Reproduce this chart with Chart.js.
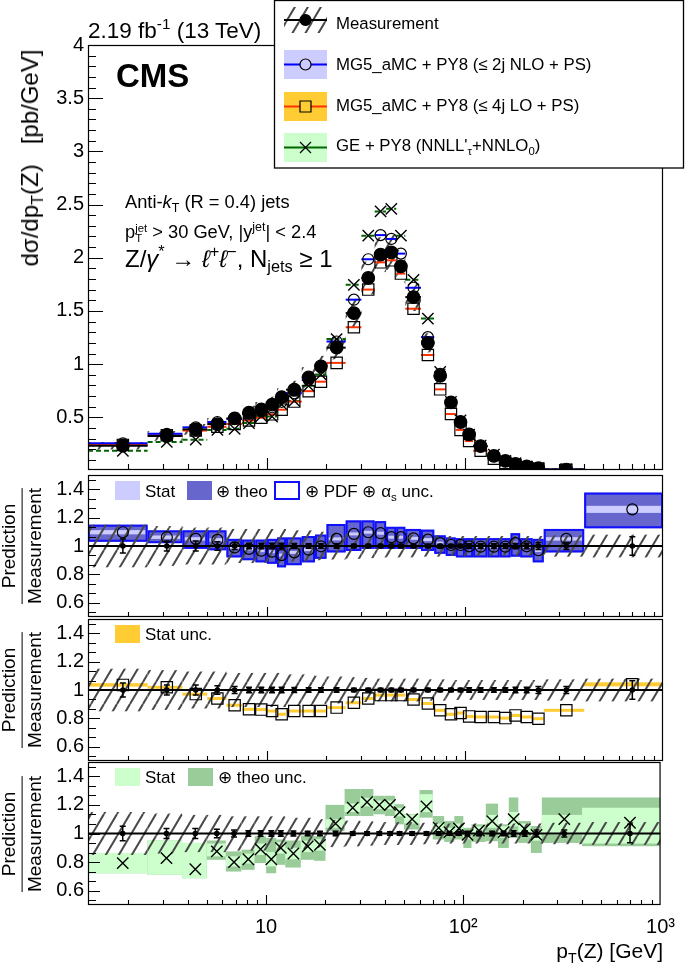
<!DOCTYPE html>
<html><head><meta charset="utf-8">
<script src="https://cdn.jsdelivr.net/npm/chart.js@4.4.1/dist/chart.umd.min.js"></script>
<style>
html,body{margin:0;padding:0;background:#fff;}
body{position:relative;width:685px;height:968px;overflow:hidden;font-family:"Liberation Sans",Arial,Helvetica,sans-serif;color:#000;}
canvas{position:absolute;left:0;top:0;}
.t{position:absolute;white-space:nowrap;line-height:1;}
.t sub{font-size:68%;vertical-align:-0.32em;line-height:0;}
.t sup{font-size:68%;vertical-align:0.6em;line-height:0;}
.ss{display:inline-block;vertical-align:-0.42em;line-height:0.95;font-size:62%;text-align:left;}
.ss span{display:block;}
</style></head>
<body>
<canvas id="c1" width="685" height="968" style="width:685px;height:968px"></canvas>
<canvas id="c2" width="685" height="968" style="width:685px;height:968px"></canvas>
<canvas id="c3" width="685" height="968" style="width:685px;height:968px"></canvas>
<canvas id="c4" width="685" height="968" style="width:685px;height:968px"></canvas>
<script>
// ---------------- DATA ----------------
const binEdges = [1.25,2.5,3.75,5,6.25,7.5,8.75,10,11.25,12.5,15,17.5,20,25,30,35,40,45,50,60,70,80,90,100,110,130,150,170,190,220,250,400,1000];
const binCenters = [1.875,3.125,4.375,5.625,6.875,8.125,9.375,10.625,11.875,13.75,16.25,18.75,22.5,27.5,32.5,37.5,42.5,47.5,55,65,75,85,95,105,120,140,160,180,205,235,325,700];

// measured dsigma/dpT(Z) [pb/GeV]
const measurement = [0.233,0.325,0.387,0.437,0.49,0.544,0.575,0.62,0.69,0.76,0.875,0.98,1.155,1.48,1.81,2.03,2.05,1.92,1.63,1.2,0.89,0.64,0.456,0.34,0.23,0.137,0.09,0.062,0.038,0.022,0.009,0.002];
const measStatRel = [0.05,0.035,0.035,0.03,0.025,0.02,0.02,0.02,0.02,0.018,0.015,0.015,0.015,0.012,0.012,0.012,0.012,0.012,0.012,0.012,0.012,0.012,0.012,0.015,0.015,0.015,0.015,0.02,0.02,0.025,0.025,0.065];
const measSystRel = [0.15,0.14,0.13,0.13,0.12,0.12,0.12,0.12,0.12,0.11,0.11,0.1,0.095,0.09,0.085,0.08,0.08,0.08,0.08,0.075,0.075,0.07,0.07,0.07,0.07,0.07,0.07,0.07,0.07,0.07,0.075,0.08];
const measRatio = [1,1,1,1,1,1,1,1,1,1,1,1,1,1,1,1,1,1,1,1,1,1,1,1,1,1,1,1,1,1,1,1];

// predictions, top panel [pb/GeV]
const nloXsec = [0.256,0.345,0.406,0.456,0.485,0.533,0.556,0.595,0.646,0.726,0.852,0.978,1.213,1.606,1.986,2.213,2.177,2.039,1.718,1.254,0.908,0.644,0.459,0.339,0.229,0.136,0.0896,0.0632,0.0379,0.0213,0.00945,0.0025];
const loXsec  = [0.241,0.331,0.376,0.411,0.438,0.47,0.496,0.528,0.572,0.648,0.746,0.835,1.012,1.347,1.701,1.957,1.976,1.851,1.521,1.086,0.763,0.531,0.382,0.277,0.186,0.111,0.0722,0.0509,0.0308,0.0176,0.0077,0.0021];
const geXsec  = [0.185,0.269,0.29,0.382,0.392,0.446,0.512,0.508,0.621,0.654,0.796,0.902,1.236,1.746,2.208,2.436,2.46,2.208,1.793,1.428,0.926,0.646,0.472,0.337,0.235,0.149,0.0909,0.0682,0.0391,0.0218,0.0099,0.00215];

// ratio MG5_aMC NLO / measurement
const nloRatio = [1.097,1.062,1.05,1.043,0.99,0.98,0.967,0.96,0.936,0.955,0.974,0.998,1.05,1.085,1.097,1.09,1.062,1.062,1.054,1.045,1.02,1.007,1.007,0.998,0.995,0.995,0.995,1.02,0.998,0.97,1.05,1.258];
const nloStat  = [0.015,0.012,0.012,0.012,0.01,0.01,0.01,0.01,0.01,0.01,0.008,0.008,0.008,0.008,0.008,0.008,0.008,0.008,0.008,0.008,0.008,0.008,0.008,0.008,0.008,0.008,0.01,0.01,0.01,0.012,0.012,0.025];
const nloTotLo = [1.03,1.02,0.98,0.97,0.92,0.9,0.885,0.875,0.85,0.865,0.885,0.91,0.955,0.965,0.98,0.98,0.98,0.98,0.98,0.965,0.945,0.93,0.92,0.92,0.92,0.92,0.92,0.925,0.92,0.885,0.955,1.125];
const nloTotHi = [1.15,1.11,1.11,1.11,1.05,1.045,1.045,1.05,1.06,1.06,1.07,1.08,1.155,1.18,1.18,1.175,1.135,1.135,1.12,1.115,1.075,1.06,1.055,1.055,1.055,1.055,1.055,1.09,1.055,1.05,1.12,1.376];

// ratio MG5_aMC LO / measurement
const loRatio = [1.036,1.019,0.971,0.94,0.893,0.864,0.862,0.852,0.829,0.852,0.852,0.852,0.876,0.91,0.94,0.964,0.964,0.964,0.933,0.905,0.857,0.829,0.838,0.814,0.81,0.81,0.802,0.821,0.81,0.798,0.857,1.04];
const loStat  = [0.012,0.008,0.008,0.008,0.006,0.006,0.006,0.006,0.006,0.006,0.006,0.006,0.006,0.006,0.006,0.006,0.006,0.006,0.006,0.006,0.006,0.006,0.006,0.006,0.006,0.006,0.006,0.006,0.006,0.006,0.006,0.014];

// ratio GENEVA / measurement
const geRatio  = [0.793,0.828,0.75,0.875,0.8,0.82,0.89,0.82,0.9,0.86,0.91,0.92,1.07,1.18,1.22,1.2,1.2,1.15,1.1,1.19,1.04,1.01,1.035,0.99,1.02,1.087,1.01,1.1,1.03,0.99,1.1,1.075];
const geStatLo = [0.722,0.711,0.687,0.84,0.77,0.79,0.85,0.77,0.86,0.82,0.87,0.88,1.04,1.15,1.19,1.17,1.17,1.12,1.07,1.15,1.01,0.98,1.0,0.96,0.99,1.04,0.97,1.05,0.99,0.95,0.99,0.93];
const geStatHi = [0.864,0.951,0.934,0.93,0.84,0.86,0.93,0.87,0.94,0.9,0.95,0.96,1.1,1.21,1.25,1.23,1.23,1.18,1.13,1.275,1.07,1.04,1.07,1.02,1.05,1.13,1.05,1.15,1.07,1.03,1.13,1.18];
const geTheoLo = [0.722,0.711,0.687,0.816,0.734,0.746,0.793,0.722,0.781,0.762,0.816,0.809,1.016,1.122,1.122,1.134,1.122,1.064,1.028,1.111,0.958,0.941,0.958,0.899,0.941,0.946,0.899,0.969,0.934,0.864,0.934,0.911];
const geTheoHi = [0.864,0.951,0.934,0.951,0.875,0.887,0.981,0.969,0.958,0.951,0.986,0.981,1.2,1.311,1.311,1.264,1.264,1.205,1.134,1.304,1.122,1.087,1.122,1.04,1.064,1.209,1.064,1.252,1.087,1.052,1.252,1.252];

// axes
const xMajorTicks = [10, 100, 1000];
const xTickLabels = ['10', '10\u00B2', '10\u00B3'];
const xMinorTicks = [2,3,4,5,6,7,8,9,20,30,40,50,60,70,80,90,200,300,400,500,600,700,800,900];
const topYTicks = [0.5,1,1.5,2,2.5,3,3.5,4];
const ratioYTicks = [0.6,0.8,1,1.2,1.4];

// ---------------- STYLE ----------------
const C = {
  nloLine:'#0000ff', nloStat:'#ccccff', nloTheo:'#6666cc', nloBorder:'#1010ff',
  loLine:'#ff3300', loStat:'#ffcc33',
  geLine:'#006600', geStat:'#ccffcc', geTheo:'#99cc99'
};
Chart.defaults.font.family = '"Liberation Sans", Arial, sans-serif';

const hatchTile = (function(){
  const s=13, h=22;
  const c=document.createElement('canvas'); c.width=s; c.height=h;
  const g=c.getContext('2d');
  g.strokeStyle='#484848'; g.lineWidth=2;
  for (const o of [-s,0,s]) { g.beginPath(); g.moveTo(o, h); g.lineTo(o+s, 0); g.stroke(); }
  return c;
})();

function drawMarker(ctx, style, x, y, r, fill){
  ctx.save(); ctx.strokeStyle='#000'; ctx.lineWidth=1.2; ctx.beginPath();
  if (style==='circle'){ ctx.arc(x,y,r,0,Math.PI*2); if(fill){ctx.fillStyle='#000';ctx.fill();} ctx.stroke(); }
  else if (style==='rect'){ ctx.rect(x-r,y-r,2*r,2*r); ctx.stroke(); }
  else { ctx.moveTo(x-r,y-r); ctx.lineTo(x+r,y+r); ctx.moveTo(x-r,y+r); ctx.lineTo(x+r,y-r); ctx.stroke(); }
  ctx.restore();
}

const panelPlugin = {
  id:'panel',
  beforeDatasetsDraw(chart, args, o){
    const ctx=chart.ctx, a=chart.chartArea, X=chart.scales.x, Y=chart.scales.y;
    const pat=ctx.createPattern(hatchTile,'repeat');
    const xe=i=>[X.getPixelForValue(binEdges[i]), X.getPixelForValue(binEdges[i+1])];
    const yp=v=>Y.getPixelForValue(v);
    ctx.save();
    ctx.beginPath(); ctx.rect(a.left,a.top,a.right-a.left,a.bottom-a.top); ctx.clip();
    const box=(i,lo,hi,fill,inset)=>{ const [x0,x1]=xe(i); const d=inset||0; let y0=yp(hi), y1=yp(lo); if(y1-y0<3){const m=(y0+y1)/2;y0=m-1.5;y1=m+1.5;} ctx.fillStyle=fill; ctx.fillRect(x0+d,y0,x1-x0-2*d,y1-y0); };
    const hline=(i,v,color,lw,dash)=>{ const [x0,x1]=xe(i); const y=yp(v); ctx.strokeStyle=color; ctx.lineWidth=lw; ctx.setLineDash(dash||[]); ctx.beginPath(); ctx.moveTo(x0,y); ctx.lineTo(x1,y); ctx.stroke(); ctx.setLineDash([]); };
    const n=binCenters.length;
    if (o.kind==='top'){
      for (let i=0;i<n;i++){ if (measurement[i]<Y.min) continue; box(i, measurement[i]*(1-measSystRel[i]), measurement[i]*(1+measSystRel[i]), pat); }
      for (let i=0;i<n;i++){
        if (geXsec[i]>=Y.min) hline(i, geXsec[i], C.geLine, 2, [5,3]);
        if (loXsec[i]>=Y.min) hline(i, loXsec[i], C.loLine, 2);
        if (nloXsec[i]>=Y.min) hline(i, nloXsec[i], C.nloLine, 2);
      }
      for (let i=0;i<n;i++){
        if (measurement[i]<Y.min) continue;
        hline(i, measurement[i], '#000', 2);
        const x=X.getPixelForValue(binCenters[i]);
        ctx.strokeStyle='#000'; ctx.lineWidth=1.5; ctx.beginPath();
        ctx.moveTo(x, yp(measurement[i]*(1+measStatRel[i]))); ctx.lineTo(x, yp(measurement[i]*(1-measStatRel[i]))); ctx.stroke();
      }
    } else {
      if (o.kind==='nlo'){
        for (let i=0;i<n;i++){
          const [x0,x1]=xe(i); const y0=yp(nloTotHi[i]), y1=yp(nloTotLo[i]);
          ctx.fillStyle=C.nloTheo; ctx.fillRect(x0,y0,x1-x0,y1-y0);
          box(i, nloRatio[i]-nloStat[i], nloRatio[i]+nloStat[i], C.nloStat, 2);
          ctx.strokeStyle=C.nloBorder; ctx.lineWidth=2; ctx.strokeRect(x0+1,y0+1,x1-x0-2,y1-y0-2);
        }
      } else if (o.kind==='lo'){
        for (let i=0;i<n;i++) box(i, loRatio[i]-loStat[i], loRatio[i]+loStat[i], C.loStat);
      } else if (o.kind==='ge'){
        for (let i=0;i<n;i++){ box(i, geTheoLo[i], geTheoHi[i], C.geTheo); box(i, geStatLo[i], geStatHi[i], C.geStat); }
      }
      for (let i=0;i<n;i++) box(i, 1-measSystRel[i], 1+measSystRel[i], pat);
      ctx.strokeStyle='#000'; ctx.lineWidth=2; ctx.beginPath(); const y1=yp(1); ctx.moveTo(a.left,y1); ctx.lineTo(a.right,y1); ctx.stroke();
      for (let i=0;i<n;i++){
        const x=X.getPixelForValue(binCenters[i]); const ya=yp(measRatio[i]+measStatRel[i]), yb=yp(measRatio[i]-measStatRel[i]);
        ctx.strokeStyle='#000'; ctx.lineWidth=1.5; ctx.beginPath();
        ctx.moveTo(x,ya); ctx.lineTo(x,yb); ctx.moveTo(x-3,ya); ctx.lineTo(x+3,ya); ctx.moveTo(x-3,yb); ctx.lineTo(x+3,yb); ctx.stroke();
      }
    }
    ctx.restore();
  },
  afterDraw(chart, args, o){
    const ctx=chart.ctx, a=chart.chartArea, X=chart.scales.x, Y=chart.scales.y;
    const top = o.kind==='top';
    ctx.save();
    ctx.strokeStyle='#000'; ctx.lineWidth=1.2;
    ctx.strokeRect(a.left+0.5, a.top+0.5, a.right-a.left-1, a.bottom-a.top-1);
    ctx.lineWidth=1.1; ctx.beginPath();
    const yMaj = top?topYTicks:ratioYTicks;
    const yMajLen = top?15:12, yMinLen = 8;
    for (const v of yMaj){ const y=Math.round(Y.getPixelForValue(v))+0.5; ctx.moveTo(a.left,y); ctx.lineTo(a.left+yMajLen,y); }
    if (top){ for (let k=1;k<40;k++){ if(k%5===0) continue; const y=Math.round(Y.getPixelForValue(k/10))+0.5; ctx.moveTo(a.left,y); ctx.lineTo(a.left+yMinLen,y);} }
    else { for (let k=-1;k<=13;k++){ if(k%3===0) continue; const v=0.6+k*0.2/3; if(v<=Y.min||v>=Y.max) continue; const y=Math.round(Y.getPixelForValue(v))+0.5; ctx.moveTo(a.left,y); ctx.lineTo(a.left+yMinLen,y);} }
    for (const v of xMajorTicks){ const x=Math.round(X.getPixelForValue(v))+0.5; if(x>a.right-2) continue; ctx.moveTo(x,a.bottom); ctx.lineTo(x,a.bottom-(top?12:10)); }
    for (const v of xMinorTicks){ const x=Math.round(X.getPixelForValue(v))+0.5; ctx.moveTo(x,a.bottom); ctx.lineTo(x,a.bottom-(top?6:5)); }
    ctx.stroke();
    // legends
    const pat=ctx.createPattern(hatchTile,'repeat');
    if (top){
      ctx.fillStyle='#fff'; ctx.fillRect(274,0,411,168);
      ctx.strokeStyle='#000'; ctx.lineWidth=1.3; ctx.strokeRect(274.5,0.5,409,167.5);
      const sx=284, sw=43, mx=305.5;
      ctx.fillStyle=pat; ctx.fillRect(sx,7,sw,26);
      ctx.fillStyle=C.nloStat; ctx.fillRect(sx,50,sw,29);
      ctx.fillStyle=C.loStat; ctx.fillRect(sx,92,sw,29);
      ctx.fillStyle=C.geStat; ctx.fillRect(sx,133,sw,29);
      const lines=[[20,'#000'],[64.5,C.nloLine],[106.5,C.loLine],[147.5,C.geLine]];
      for (const [y,c] of lines){ ctx.strokeStyle=c; ctx.lineWidth=2; ctx.beginPath(); ctx.moveTo(sx,y); ctx.lineTo(sx+sw,y); ctx.stroke(); }
      drawMarker(ctx,'circle',mx,20,5.5,true);
      ctx.fillStyle=C.nloStat; ctx.beginPath(); ctx.arc(mx,64.5,5.5,0,7); ctx.fill();
      drawMarker(ctx,'circle',mx,64.5,5.5,false);
      ctx.fillStyle=C.loStat; ctx.fillRect(mx-5.5,101,11,11);
      drawMarker(ctx,'rect',mx,106.5,5.5,false);
      drawMarker(ctx,'x',mx,147.5,5.5,false);
    } else if (o.kind==='nlo'){
      ctx.fillStyle=C.nloStat; ctx.fillRect(115,481,25,19);
      ctx.fillStyle=C.nloTheo; ctx.fillRect(187,481,25,19);
      ctx.fillStyle='#fff'; ctx.fillRect(274,481,26,19);
      ctx.strokeStyle=C.nloBorder; ctx.lineWidth=2; ctx.strokeRect(275,482,24,17);
    } else if (o.kind==='lo'){
      ctx.fillStyle=C.loStat; ctx.fillRect(115,625,25,18);
    } else if (o.kind==='ge'){
      ctx.fillStyle=C.geStat; ctx.fillRect(115,768,25,18);
      ctx.fillStyle=C.geTheo; ctx.fillRect(188,768,25,18);
    }
    ctx.restore();
  }
};

function pts(ys){ return binCenters.map((x,i)=>({x, y:ys[i]})); }
function hideBelow(r){ return c => (c.raw && c.chart.scales.y && c.raw.y < c.chart.scales.y.min) ? 0 : r; }
function ds(ys, style, r, fill, order, bw){
  return { data:pts(ys), pointStyle:style, pointRadius:hideBelow(r), pointHoverRadius:r,
    pointBackgroundColor: fill?'#000':'rgba(0,0,0,0)', pointBorderColor:'#000', pointBorderWidth:bw||1.2, order, showLine:false };
}

function makeChart(id, kind, padTop, padBottom, yMin, yMax, yTicks, datasets, showX){
  return new Chart(document.getElementById(id), {
    type:'scatter',
    data:{datasets},
    options:{
      responsive:false, animation:false, devicePixelRatio:1, events:[],
      layout:{padding:{top:padTop,bottom:padBottom,left:0,right:22}},
      plugins:{legend:{display:false}, tooltip:{enabled:false}, panel:{kind}},
      scales:{
        x:{type:'logarithmic', min:1.25, max:1000, display:showX,
           grid:{display:false, drawTicks:false}, border:{display:false},
           ticks:{autoSkip:false, maxRotation:0, padding:10, color:'#000', font:{size:20},
                  callback:(v,i)=>xTickLabels[i]},
           afterBuildTicks:s=>{ s.ticks = xMajorTicks.map(v=>({value:v})); },
           afterFit:s=>{ s.height = showX?40:0; }},
        y:{type:'linear', min:yMin, max:yMax,
           grid:{display:false, drawTicks:false}, border:{display:false},
           ticks:{padding:4, color:'#000', font:{size:20}, callback:v=>String(v)},
           afterBuildTicks:s=>{ s.ticks = yTicks.map(v=>({value:v})); },
           afterFit:s=>{ s.width = 88; }}
      }
    },
    plugins:[panelPlugin]
  });
}

makeChart('c1','top',45,498,0.005,4,topYTicks,[
  ds(measurement,'circle',6.3,true,0),
  ds(nloXsec,'circle',5.5,false,1),
  ds(loXsec,'rect',8,false,2),
  ds(geXsec,'crossRot',8,false,3,1.4)
], false);
makeChart('c2','nlo',475,351,0.5,1.5,ratioYTicks,[
  ds(nloRatio,'circle',5.5,false,0),
  ds(measRatio,'circle',2.2,true,1)
], false);
makeChart('c3','lo',619,207,0.5,1.5,ratioYTicks,[
  ds(loRatio,'rect',8,false,0),
  ds(measRatio,'circle',2.2,true,1)
], false);
makeChart('c4','ge',762,23,0.5,1.5,ratioYTicks,[
  ds(geRatio,'crossRot',8,false,0,1.4),
  ds(measRatio,'circle',2.2,true,1)
], true);

// ---------------- TEXT ----------------
function addText(html, x, baseline, size, opt){
  opt=opt||{};
  const d=document.createElement('div'); d.className='t'; d.innerHTML=html;
  d.style.fontSize=size+'px';
  d.style.top=(baseline-0.8465*size)+'px';
  if (opt.right) d.style.right=(685-x)+'px'; else d.style.left=x+'px';
  if (opt.bold) d.style.fontWeight='bold';
  document.body.appendChild(d);
}
function addRot(html, cx, cy, size){
  const d=document.createElement('div'); d.className='t'; d.innerHTML=html;
  d.style.fontSize=size+'px'; d.style.left=cx+'px'; d.style.top=cy+'px';
  d.style.transform='translate(-50%,-50%) rotate(-90deg)';
  document.body.appendChild(d);
}
addText('2.19 fb<sup>-1</sup> (13 TeV)', 88, 39, 22.5);
addText('CMS', 116, 87, 33, {bold:true});
addText('Anti-<i>k</i><sub>T</sub> (R = 0.4) jets', 125, 208, 18.3);
addText('p<span class="ss"><span>jet</span><span>T</span></span> &gt; 30 GeV, |y<sup>jet</sup>| &lt; 2.4', 125, 238, 18.3);
addText('Z/<i>\u03B3</i><sup>*</sup> \u2192 <i>\u2113</i><sup>+</sup><i>\u2113</i><sup>\u2212</sup>, N<sub>jets</sub> \u2265 1', 125, 267, 24);
addText('Measurement', 336, 30, 16.8);
addText('MG5_aMC + PY8 (\u2264 2j NLO + PS)', 336, 71, 16.8);
addText('MG5_aMC + PY8 (\u2264 4j LO + PS)', 336, 112.5, 16.8);
addText('GE + PY8 (NNLL\'<sub>\u03C4</sub>+NNLO<sub>0</sub>)', 336, 152.5, 16.8);
addText('Stat', 145, 497, 17);
addText('\u2295 theo', 216, 497, 17);
addText('\u2295 PDF \u2295 \u03B1<sub>s</sub> unc.', 305, 497, 17);
addText('Stat unc.', 145, 640, 17);
addText('Stat', 145, 783, 17);
addText('\u2295 theo unc.', 218, 783, 17);
addText('p<sub>T</sub>(Z) [GeV]', 663, 958, 21, {right:true});
addRot('d\u03C3/dp<sub>T</sub>(Z)&nbsp;&nbsp;&nbsp;[pb/GeV]', 30, 158, 24);
const frac='<div style="text-align:center;line-height:1.1"><div style="padding:0 2px 2px">Prediction</div><div style="border-top:1.6px solid #000;padding-top:2px">Measurement</div></div>';
addRot(frac, 22, 546, 19);
addRot(frac, 22, 690, 19);
addRot(frac, 22, 834, 19);
</script>
</body></html>
